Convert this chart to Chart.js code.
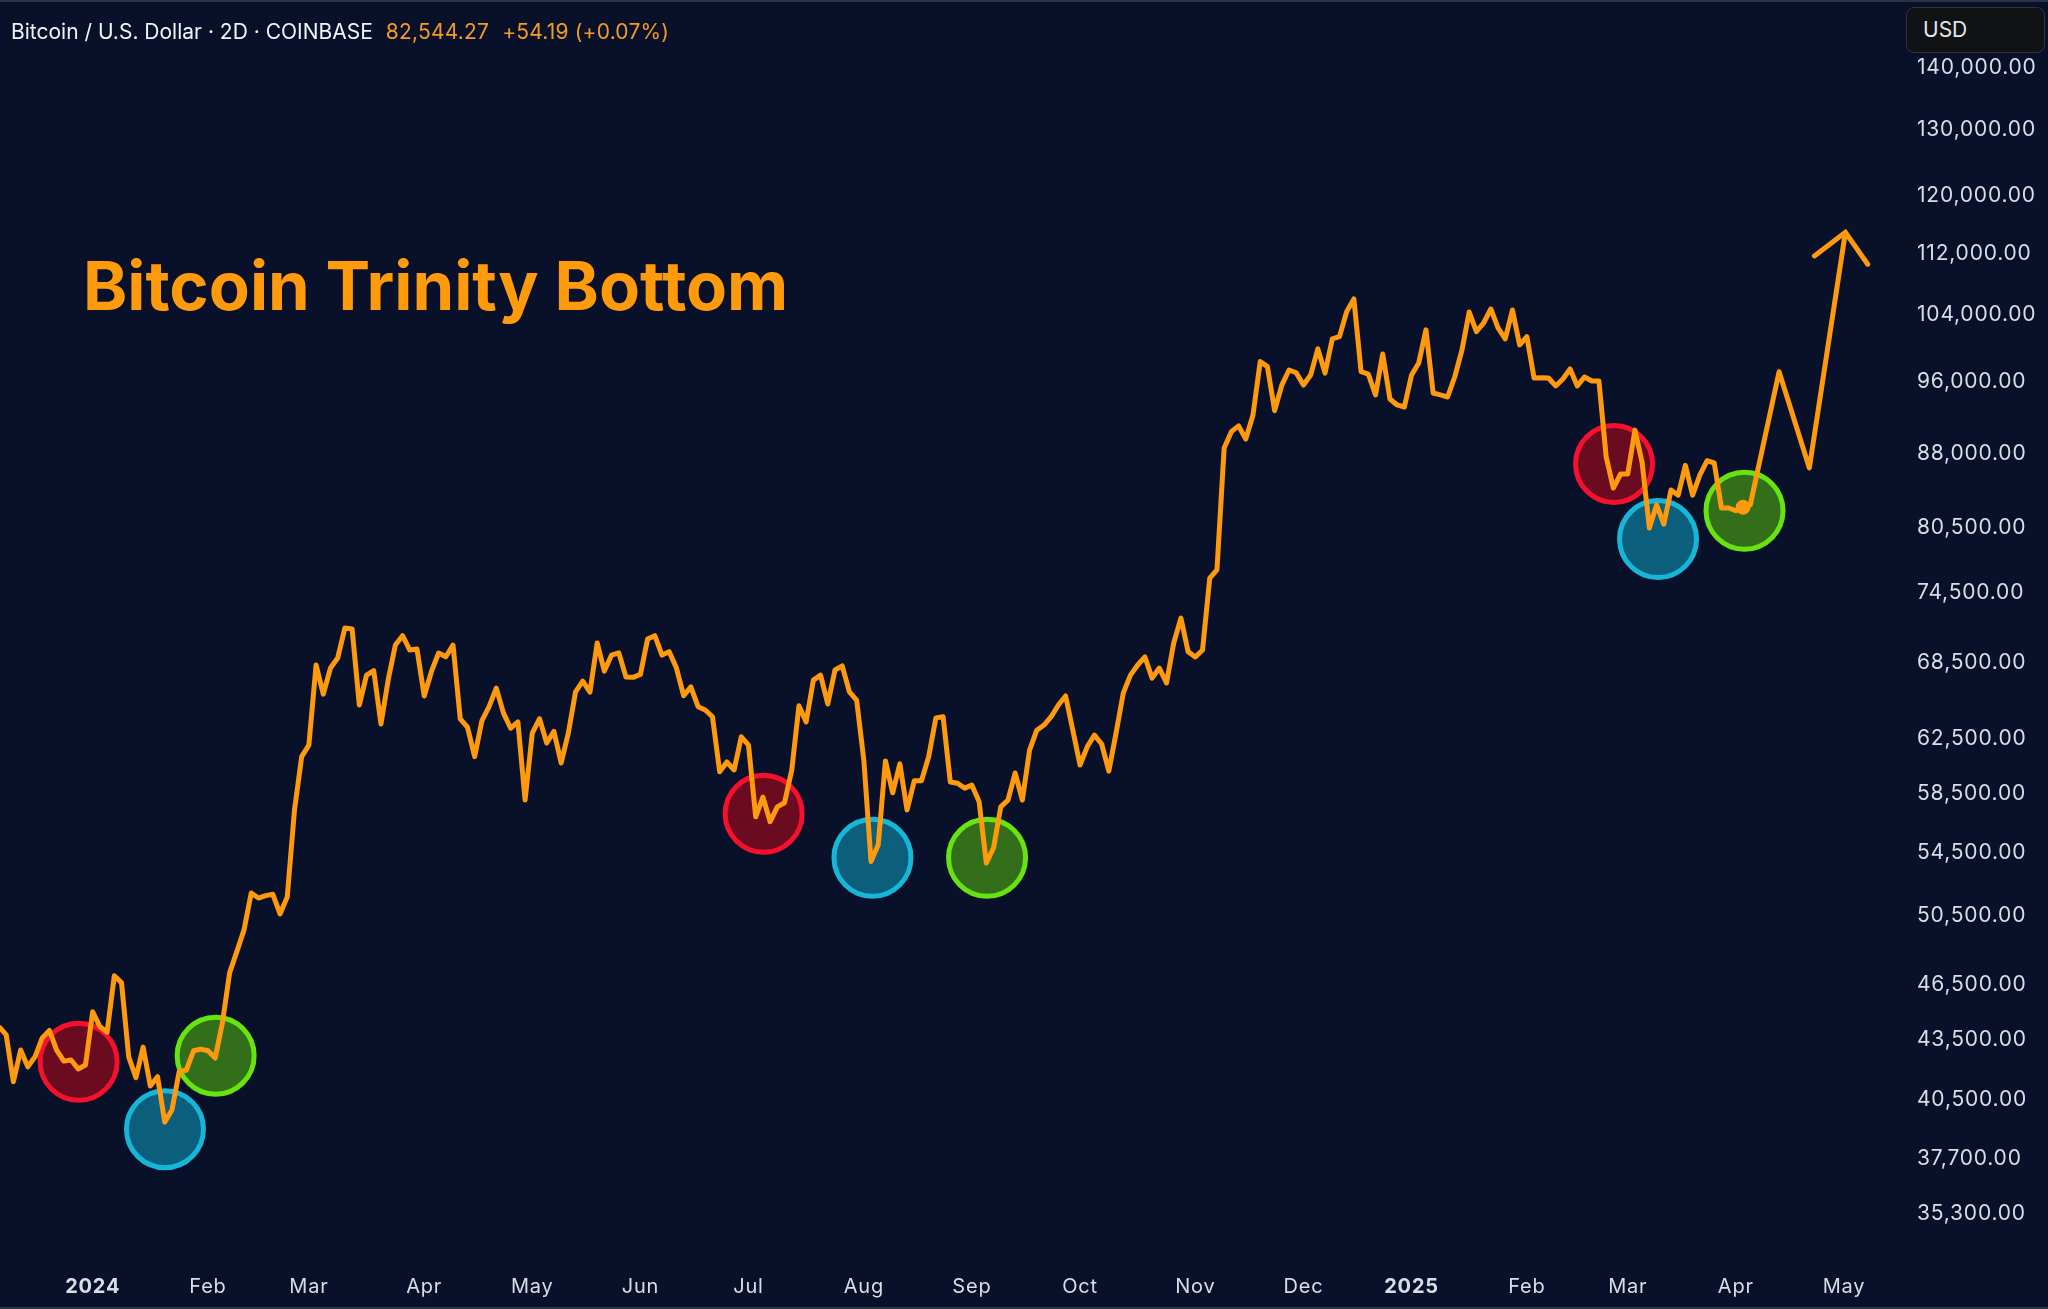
<!DOCTYPE html>
<html>
<head>
<meta charset="utf-8">
<title>Bitcoin Trinity Bottom</title>
<script src="https://cdn.jsdelivr.net/npm/chart.js@4"></script>
<style>
  html, body { margin: 0; padding: 0; background: #081129; }
  #wrap { position: relative; width: 2048px; height: 1309px; overflow: hidden; font-family: Inter, sans-serif; }
  #wrap canvas { position: absolute; left: 0; top: 0; }
  .edge { position: absolute; left: 0; width: 2048px; height: 2px; background: #2a3442; }
  #head { position: absolute; left: 11px; top: 20px; font-size: 21px; line-height: 24px; color: #f2f4f7; white-space: nowrap; }
  #head span { color: #f59a23; margin-left: 13px; letter-spacing: 0.2px; }
  #big { position: absolute; left: 83px; top: 246px; font-size: 67px; line-height: 80px; font-weight: 700; color: #ff9a0a; white-space: nowrap; }
  #usd { position: absolute; left: 1906px; top: 7px; width: 139px; height: 46px; box-sizing: border-box; background: #111214; border: 1px solid #2f3339; border-radius: 8px; color: #e4e6ea; font-size: 21px; line-height: 44px; padding-left: 16px; }
</style>
</head>
<body>
<div id="wrap">
  <canvas id="chart" width="2048" height="1309"></canvas>
  <div class="edge" style="top:0"></div>
  <div class="edge" style="bottom:0"></div>
  <div id="head">Bitcoin / U.S. Dollar · 2D · COINBASE<span>82,544.27</span><span>+54.19 (+0.07%)</span></div>
  <div id="big">Bitcoin Trinity Bottom</div>
  <div id="usd">USD</div>
</div>
<script>
// 2D closes, one per bar
const closes = [
  44200, 43760, 41360, 42970, 42110, 42620, 43600, 43990, 42970, 42400,
  42460, 42000, 42200, 44990, 44200, 43890, 46980, 46600, 42620, 41560,
  43120, 41150, 41610, 39400, 39980, 41860, 41950, 42930, 43020, 42930,
  42560, 44390, 47150, 48370, 49650, 51900, 51590, 51740, 51820, 50610,
  51660, 57340, 61150, 62010, 68280, 65930, 68030, 68860, 71390, 71300,
  65070, 67450, 67810, 63600, 67050, 69940, 70730, 69520, 69600, 65780,
  67730, 69270, 68960, 69940, 64000, 63370, 61150, 63840, 64940, 66410,
  64440, 63280, 63760, 58040, 62910, 64000, 62160, 63040, 60690, 62910,
  66110, 66960, 66090, 70110, 67780, 69100, 69290, 67290, 67270, 67510,
  70440, 70730, 69100, 69380, 68030, 65800, 66510, 64940, 64680, 64160,
  60050, 60760, 60180, 62630, 62010, 56880, 58250, 56550, 57570, 57850,
  60180, 65010, 63760, 67050, 67450, 65150, 67870, 68200, 66110, 65460,
  60910, 53900, 55000, 60840, 58550, 60620, 57350, 59400, 59400, 61150,
  64070, 64160, 59320, 59230, 58880, 59090, 57920, 53810, 54790, 57570,
  58040, 59960, 58040, 61640, 63130, 63520, 64160, 65070, 65780, 63130,
  60540, 61880, 62760, 62090, 60100, 62910, 66010, 67450, 68280, 68940,
  67210, 68030, 66820, 70110, 72240, 69380, 68940, 69520, 75800, 76550,
  88640, 90400, 91030, 89600, 92230, 98350, 97750, 92710, 95610, 97360,
  97040, 95610, 96770, 99860, 97000, 101060, 101340, 104440, 106040, 97160,
  96890, 94480, 99260, 94020, 93350, 93120, 96770, 98190, 102170, 94700,
  94480, 94250, 96570, 99740, 104390, 101950, 103020, 104770, 102430, 101060,
  104640, 100340, 101340, 96430, 96460, 96430, 95510, 96310, 97480, 95510,
  96540, 96080, 96080, 87730, 84470, 85900, 85900, 90570, 87070, 80500,
  82780, 80880, 84270, 83760, 86810, 83760, 85800, 87290, 87070, 82470,
  82470, 82200, 82544, 82780
];

// hand drawn projection after the last bar, with its arrow head
const projBars = [247, 251.2, 256.2];
const projPrices = [97160, 86540, 114900];
const arrowBars = [251.9, 256.2, 259.3];
const arrowPrices = [111670, 114900, 110570];

// circled lows
const redBars = [11.05, 106.1, 224.1];
const redPrices = [42370, 57090, 86960];
const blueBars = [23.03, 121.2, 230.2];
const bluePrices = [39070, 54150, 79440];
const greenBars = [30.06, 137.1, 242.2];
const greenPrices = [42680, 54150, 82190];

const lastBar = 242;
const lastPrice = 82544.27;

const monthBars = [13, 29, 43, 59, 74, 89, 104, 120, 135, 150, 166, 181, 196, 212, 226, 241, 256];
const monthLabels = ['2024', 'Feb', 'Mar', 'Apr', 'May', 'Jun', 'Jul', 'Aug', 'Sep', 'Oct', 'Nov', 'Dec', '2025', 'Feb', 'Mar', 'Apr', 'May'];
const priceTicks = [140000, 130000, 120000, 112000, 104000, 96000, 88000, 80500, 74500, 68500, 62500, 58500, 54500, 50500, 46500, 43500, 40500, 37700, 35300];

const ORANGE = '#ff9a0f';
const TICK_COLOR = '#d9dee6';

function toPoints(xs, ys) {
  return xs.map((x, i) => ({ x: x, y: ys[i] }));
}

function circleSet(xs, ys, fill, stroke) {
  return {
    type: 'scatter',
    data: toPoints(xs, ys),
    backgroundColor: fill,
    borderColor: stroke,
    pointRadius: 38.5,
    pointBorderWidth: 5,
    pointStyle: 'circle',
    order: 2,
  };
}

// year labels are bold
function monthFont(ctx) {
  const isYear = ctx.tick && monthLabels[monthBars.indexOf(ctx.tick.value)].length === 4;
  return { family: 'Inter', size: 20, weight: isYear ? '700' : '400' };
}

// axis text in the reference is a little wider tracked than Inter
const trackingPlugin = {
  id: 'tracking',
  beforeDraw: (chart) => { chart.ctx.letterSpacing = '0.8px'; },
};

const linePoints = closes.map((c, i) => ({ x: i, y: c })).concat(toPoints(projBars, projPrices));

new Chart(document.getElementById('chart'), {
  type: 'line',
  plugins: [trackingPlugin],
  data: {
    datasets: [
      circleSet(redBars, redPrices, '#6b0b20', '#f5112d'),
      circleSet(blueBars, bluePrices, '#0b5e7c', '#16b6d9'),
      circleSet(greenBars, greenPrices, '#336f1a', '#66e311'),
      {
        data: linePoints,
        borderColor: ORANGE,
        borderWidth: 5,
        borderJoinStyle: 'round',
        tension: 0,
        pointRadius: 0,
        order: 1,
      },
      {
        data: toPoints(arrowBars, arrowPrices),
        borderColor: ORANGE,
        borderWidth: 5,
        borderCapStyle: 'round',
        borderJoinStyle: 'miter',
        tension: 0,
        pointRadius: 0,
        order: 1,
      },
      {
        type: 'scatter',
        data: [{ x: lastBar, y: lastPrice }],
        backgroundColor: ORANGE,
        borderColor: ORANGE,
        pointRadius: 7,
        order: 0,
      },
    ],
  },
  options: {
    responsive: false,
    animation: false,
    devicePixelRatio: 1,
    // the big circle points would otherwise push the plot in from the edges
    layout: { padding: 0, autoPadding: false },
    plugins: { legend: { display: false }, tooltip: { enabled: false } },
    scales: {
      x: {
        type: 'linear',
        min: 0.14,
        max: 264.47,
        grid: { display: false },
        border: { display: false },
        afterFit: (scale) => { scale.height = 49; },
        afterBuildTicks: (scale) => { scale.ticks = monthBars.map((v) => ({ value: v })); },
        ticks: {
          autoSkip: false,
          maxRotation: 0,
          padding: 7,
          color: TICK_COLOR,
          font: monthFont,
          callback: (v) => monthLabels[monthBars.indexOf(v)],
        },
      },
      y: {
        type: 'logarithmic',
        position: 'right',
        min: 33380,
        max: 151930,
        grid: { display: false },
        border: { display: false },
        afterFit: (scale) => {
          scale.width = 143;
          scale.paddingTop = 0;
          scale.paddingBottom = 0;
        },
        afterBuildTicks: (scale) => { scale.ticks = priceTicks.map((v) => ({ value: v })); },
        ticks: {
          autoSkip: false,
          padding: 4,
          color: TICK_COLOR,
          font: { family: 'Inter', size: 21 },
          callback: (v) => v.toLocaleString('en-US', { minimumFractionDigits: 2 }),
        },
      },
    },
  },
});
</script>
</body>
</html>
